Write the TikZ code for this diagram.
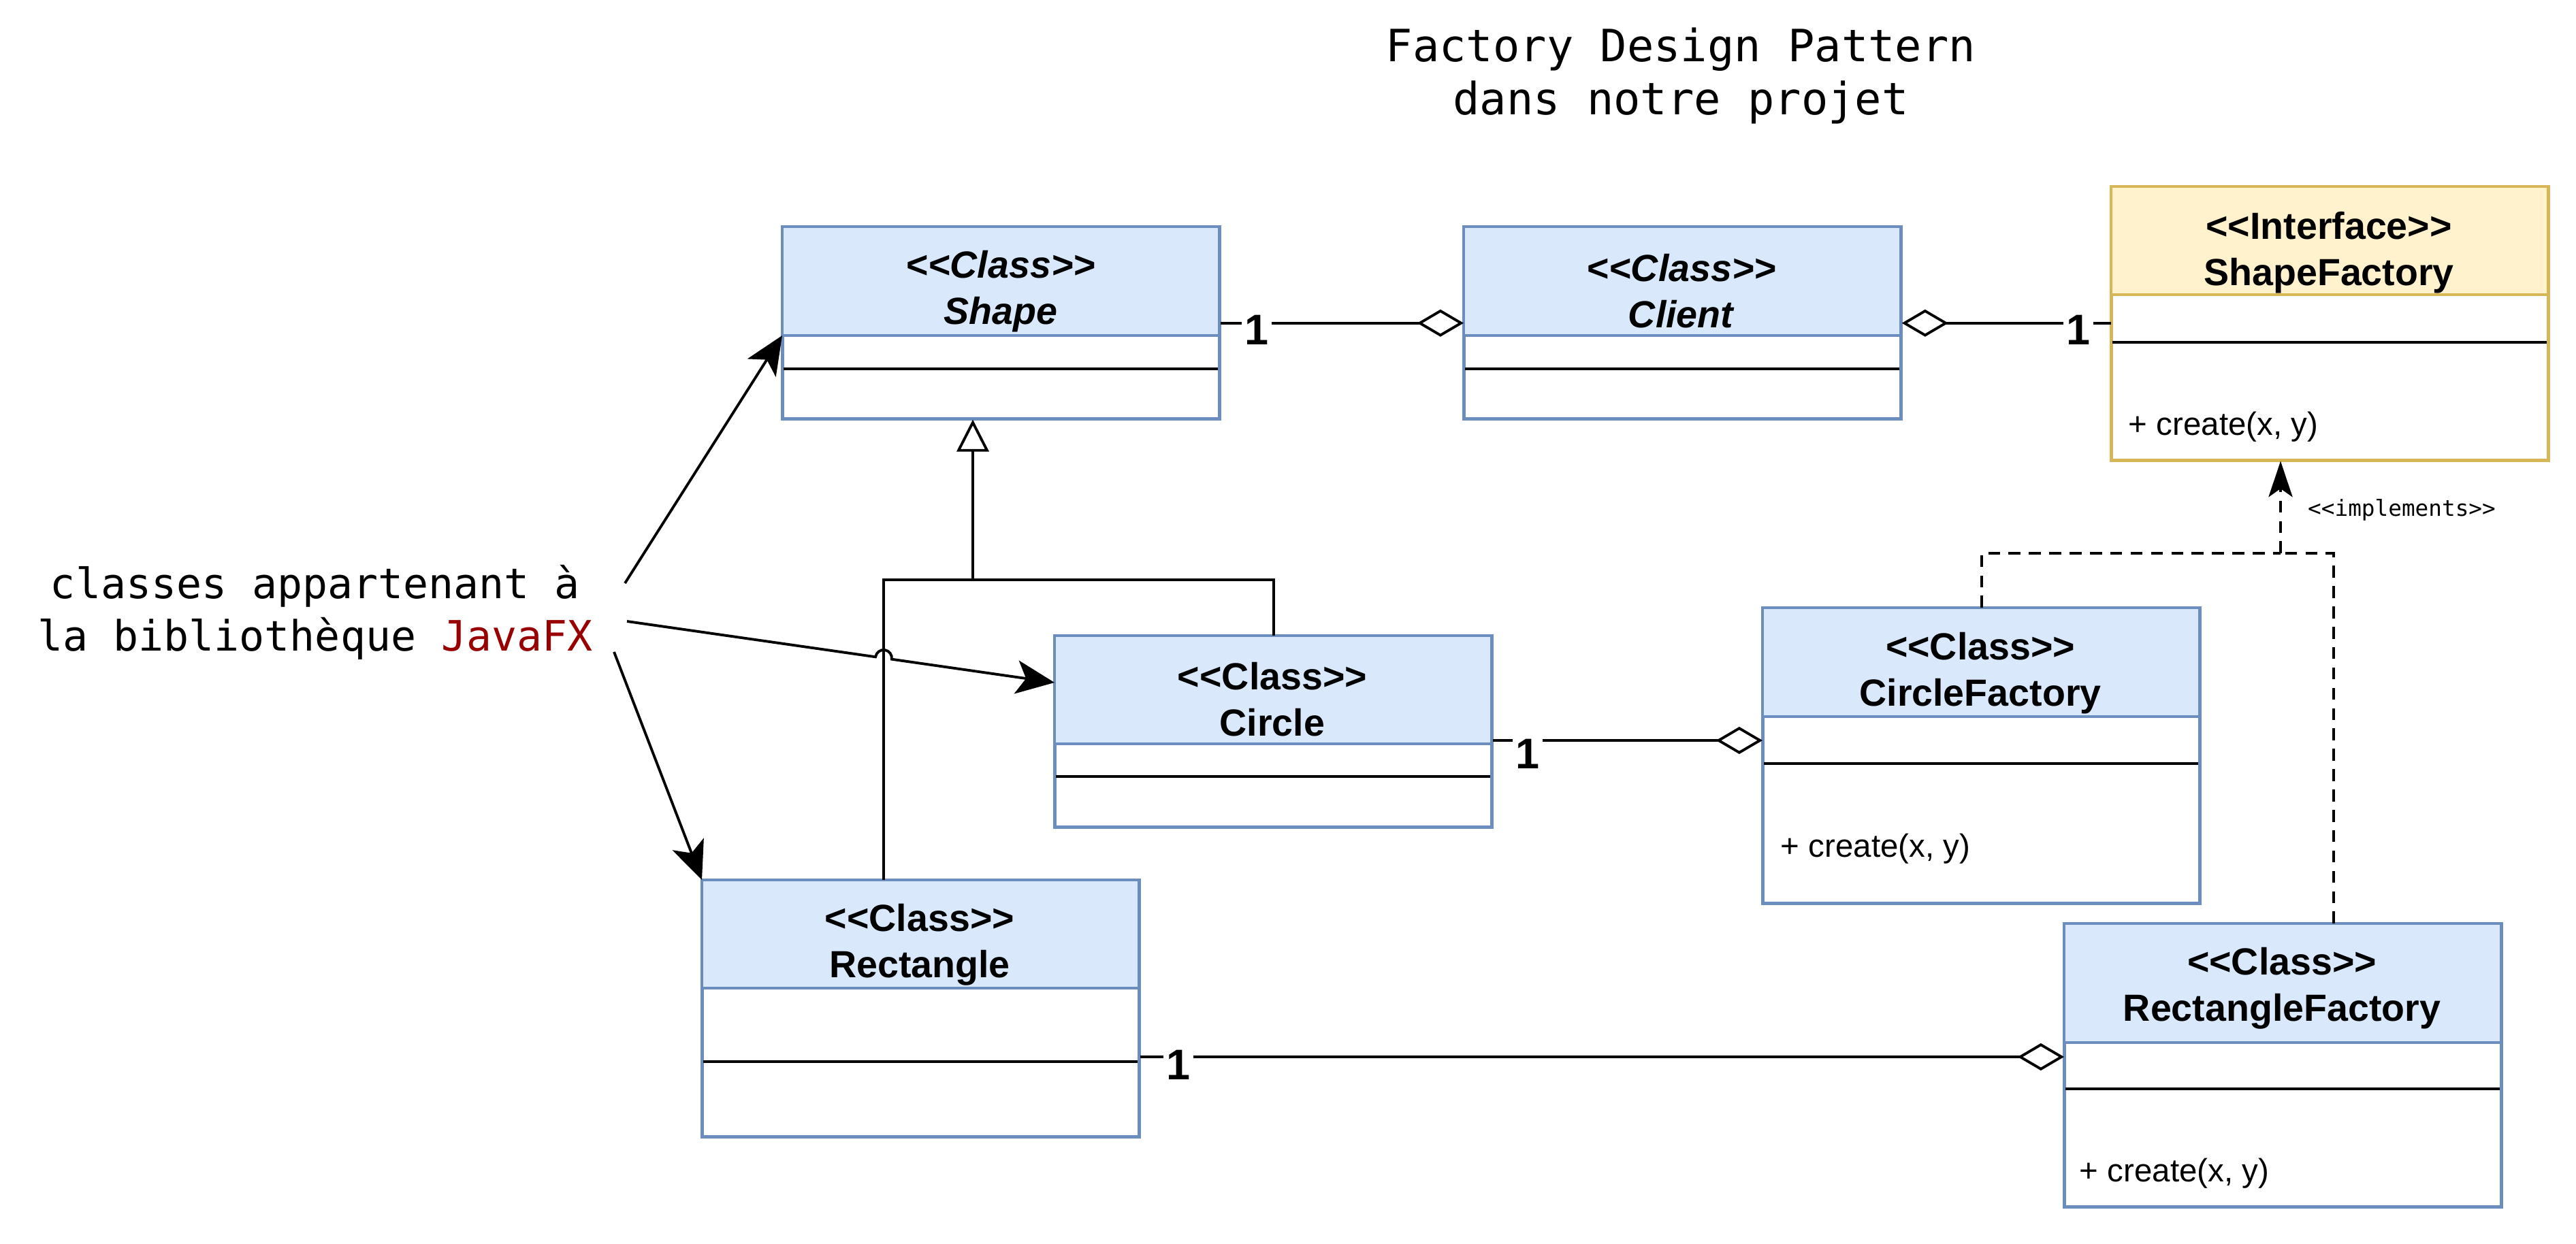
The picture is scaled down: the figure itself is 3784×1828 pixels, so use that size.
\documentclass[tikz,border=0pt]{standalone}
\usepackage{fontspec}
\setmainfont{Liberation Sans}[Ligatures=TeXOff]
\newfontfamily\codefont{DejaVu Sans Mono}[Ligatures=TeXOff]
\usetikzlibrary{arrows.meta}

\definecolor{headblue}{HTML}{DAE8FC}
\definecolor{lineblue}{HTML}{6C8EBF}
\definecolor{headyellow}{HTML}{FFF2CC}
\definecolor{lineyellow}{HTML}{D6B656}
\definecolor{fxred}{HTML}{990000}

\tikzset{
  classbox/.style={draw=lineblue, fill=white, anchor=north west, inner sep=0pt, minimum width=6.4cm, line width=0.95pt},
  classname/.style={font=\bfseries\fontsize{15.8}{19.3}\selectfont, align=center},
  method/.style={font=\fontsize{13.5}{16}\selectfont, anchor=west, inner sep=0pt},
  mult/.style={font=\bfseries\fontsize{17.9}{20}\selectfont, fill=white, inner sep=1.2pt},
  aggr/.style={-{Diamond[fill=white, length=19.4pt, width=11.4pt]}},
  inherit/.style={-{Triangle[fill=white, length=13.4pt, width=13.4pt]}},
  realize/.style={dash pattern=on 5pt off 3.5pt},
  pointer/.style={-{Stealth[length=16pt, width=14pt, inset=4pt]}},
}

\begin{document}
\begin{tikzpicture}[x=0.01cm, y=-0.01cm, line width=1.1pt]
    \path[fill=white, use as bounding box] (0,0) rectangle (3784,1828);

    % Title and note
    \node[font=\codefont\fontsize{18.6}{22.2}\selectfont, align=center] (title) at (2469,111)
        {Factory Design Pattern\\dans notre projet};
    \node[font=\codefont\fontsize{17.5}{21.9}\selectfont, align=center] (jfx) at (463,900)
        {classes appartenant à\\la bibliothèque \textcolor{fxred}{JavaFX}};

    % Class boxes
    \node[classbox, minimum height=2.8cm] (shape) at (1149,333) {};
    \node[classbox, minimum height=2.8cm] (client) at (2150,333) {};
    \node[classbox, minimum height=4.0cm, draw=lineyellow] (sf) at (3101,274) {};
    \node[classbox, minimum height=2.79cm] (circle) at (1549,934) {};
    \node[classbox, minimum height=4.32cm] (cf) at (2589,893) {};
    \node[classbox, minimum height=3.75cm] (rect) at (1031,1293) {};
    \node[classbox, minimum height=4.14cm] (rf) at (3032,1357) {};

    % Compartments
    \foreach \n/\hd/\sp/\bg/\bd in {shape/160/209/headblue/lineblue, client/160/209/headblue/lineblue,
        sf/159/229/headyellow/lineyellow, circle/159/207/headblue/lineblue,
        cf/160/229/headblue/lineblue, rect/159/267/headblue/lineblue, rf/175/243/headblue/lineblue} {
        \fill[\bg] (\n.north west) rectangle ++(640,\hd);
        \draw[\bd, line width=0.95pt] (\n.north west) ++(0,\hd) -- ++(640,0);
        \draw[line width=0.95pt] (\n.north west) ++(0,\sp) -- ++(640,0);
        \draw[\bd, line width=0.95pt] (\n.north west) rectangle (\n.south east);
    }

    % Class names
    \node[classname] (shapename) at (1470,428) {\textit{<<Class>>}\\\textit{Shape}};
    \node[classname] (clientname) at (2470,428) {\textit{<<Class>>}\\\textit{Client}};
    \node[classname] (sfname) at (3421,371) {<<Interface>>\\ShapeFactory};
    \node[classname] (circlename) at (1869,1028) {<<Class>>\\Circle};
    \node[classname] (cfname) at (2909,989) {<<Class>>\\CircleFactory};
    \node[classname] (rectname) at (1351,1388) {<<Class>>\\Rectangle};
    \node[classname] (rfname) at (3352,1452) {<<Class>>\\RectangleFactory};

    % Methods
    \node[method] (sfop) at (3125,627) {+ create(x, y)};
    \node[method] (cfop) at (2614,1247) {+ create(x, y)};
    \node[method] (rfop) at (3053,1724) {+ create(x, y)};

    % Aggregations
    \draw[aggr] (shape.east) -- (client.west);
    \draw[aggr] (sf.west |- client.east) -- (client.east);
    \draw[aggr] (circle.east |- 0,1088) -- (cf.west |- 0,1088);
    \draw[aggr] (rect.east |- 0,1553) -- (rf.west |- 0,1553);
    \node[mult] (m1) at (1846,485) {1};
    \node[mult] (m2) at (3053,485) {1};
    \node[mult] (m3) at (2244,1108) {1};
    \node[mult] (m4) at (1731,1565) {1};

    % Inheritance
    \coordinate (bar) at (1429,852);
    \draw (circle.north) |- (bar);
    \draw (rect.north -| 1298,0) |- (bar);
    \draw[inherit] (bar) -- (bar |- shape.south);

    % Pointers from the note
    \coordinate (j1) at (918,857);
    \coordinate (j2) at (921,913);
    \coordinate (j3) at (902,958);
    \draw[pointer] (j1) -- (shape.west |- 0,493);
    \draw[pointer] (j2) -- (1286.1,965.3) arc[start angle=188.15, end angle=368.15, radius=12]
        -- (circle.west |- 0,1003);
    \draw[pointer] (j3) -- (rect.north west);

    % Realization
    \coordinate (impl) at (3350,813);
    \draw[realize] (cf.north) |- (impl);
    \draw[realize] (rf.north -| 3428,0) |- (impl);
    \draw[realize, -{Stealth[length=15pt, width=10pt, inset=3.5pt]}] (impl) -- (impl |- sf.south);
    \node[font=\codefont\fontsize{9.3}{11}\selectfont] (impllabel) at (3528,749) {<<implements>>};
\end{tikzpicture}
\end{document}
